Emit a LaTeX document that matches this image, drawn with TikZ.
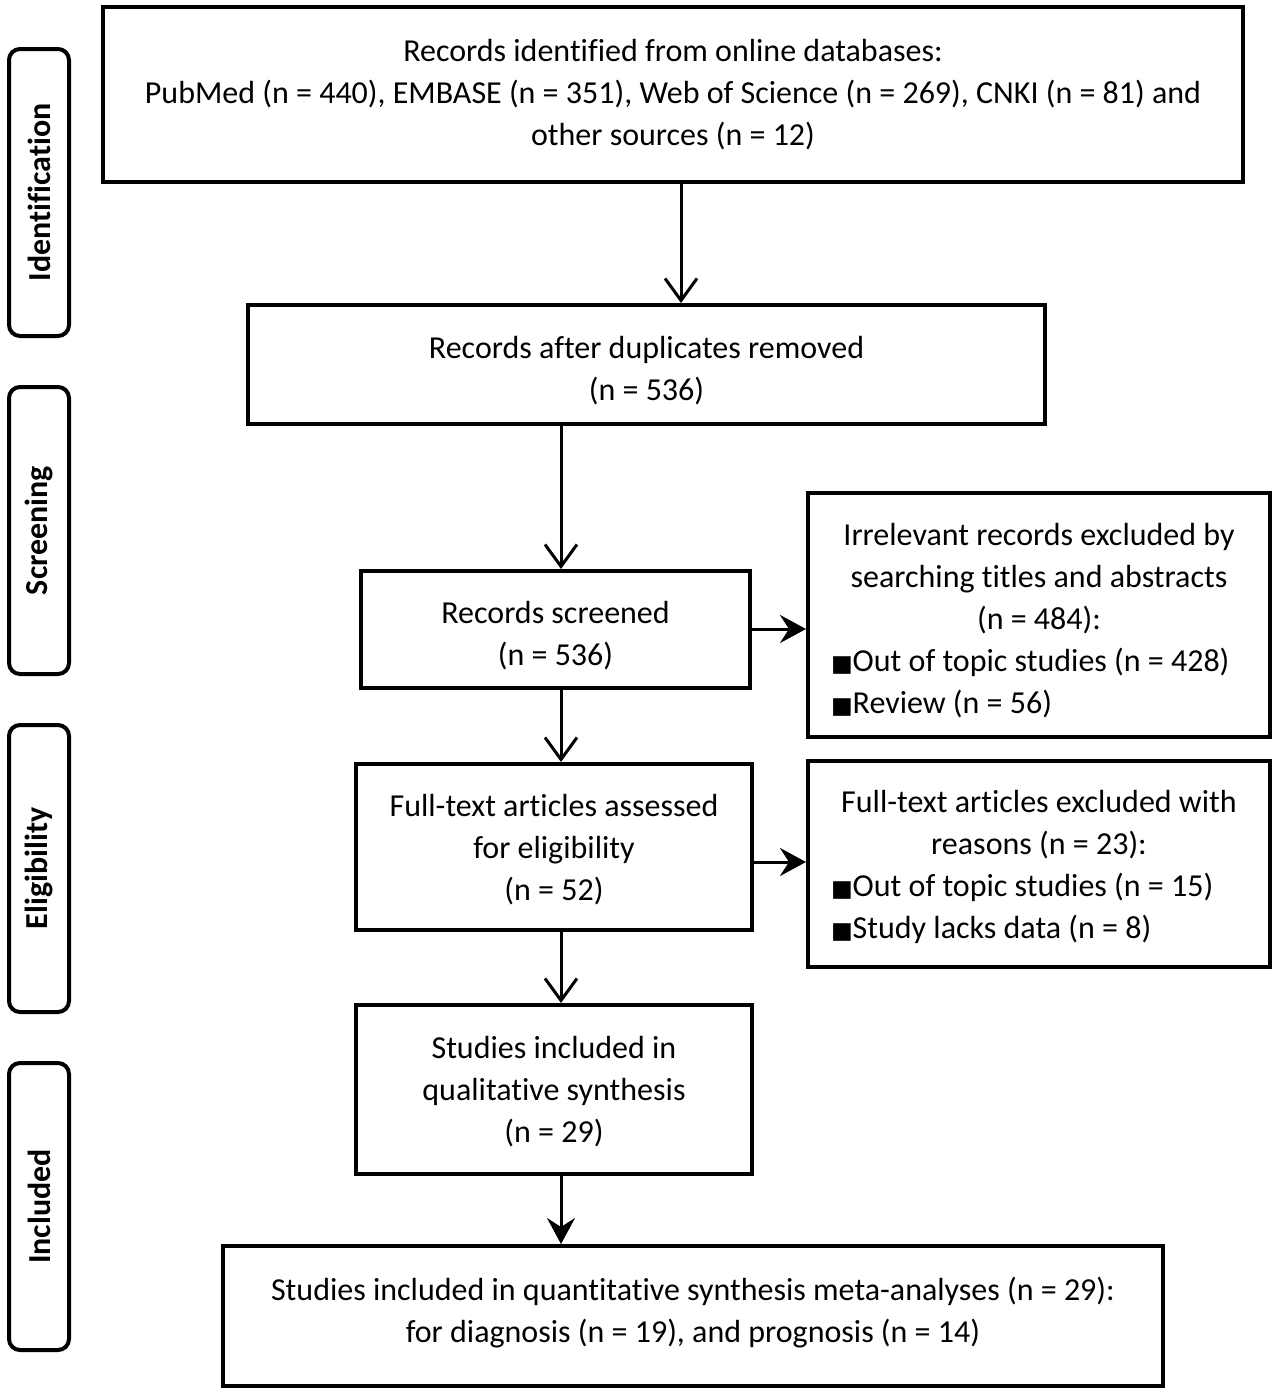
\documentclass[tikz,border=0pt]{standalone}
\usepackage{fontspec}
\setmainfont{Carlito}[Ligatures=NoCommon]
\newfontfamily\symfont{DejaVu Sans}
\usetikzlibrary{arrows.meta}
\newcommand{\sq}{{\symfont\fontsize{23}{23}\selectfont■}}
\begin{document}
\begin{tikzpicture}[x=1pt,y=-1pt,
  frame/.style={draw,line width=4pt,inner sep=0pt},
  txt/.style={align=center,inner sep=0pt,font=\fontsize{32}{42}\selectfont},
  side/.style={draw,line width=4pt,rounded corners=11pt,rotate=90,inner sep=0pt,
    minimum width=287pt,minimum height=60pt,
    font=\bfseries\fontsize{32}{36}\selectfont},
  barb/.style={line width=3pt,-{Straight Barb[length=22pt,width=32pt,line width=3pt]}},
  filled/.style={line width=3pt,-{Stealth[length=26pt,width=28pt,inset=9pt]}}]
\useasboundingbox (0,0) rectangle (1277,1393);
% side labels
\node[side] (sid) at (39,192.5) {Identification};
\node[side] (ssc) at (39,530.5) {Screening};
\node[side] (sel) at (39,868.5) {Eligibility};
\node[side] (sin) at (39,1206.5) {Included};
% frames
\node[frame,minimum width=1140pt,minimum height=175pt] (b1) at (673,94.5) {};
\node[frame,minimum width=797pt,minimum height=119pt] (b2) at (646.5,364.5) {};
\node[frame,minimum width=389pt,minimum height=117pt] (b3) at (555.5,629.5) {};
\node[frame,minimum width=462pt,minimum height=244pt] (b4) at (1039,615) {};
\node[frame,minimum width=396pt,minimum height=166pt] (b5) at (554,847) {};
\node[frame,minimum width=462pt,minimum height=206pt] (b6) at (1039,864) {};
\node[frame,minimum width=396pt,minimum height=169pt] (b7) at (554,1089.5) {};
\node[frame,minimum width=940pt,minimum height=140pt] (b8) at (693,1316) {};
% texts
\node[txt] (t1) at (b1.center) {Records identified from online databases:\\
   PubMed (n = 440), EMBASE (n = 351), Web of Science (n = 269), CNKI (n = 81) and\\
   other sources (n = 12)};
\node[txt,yshift=-6pt] (t2) at (b2.center) {Records after duplicates removed\\(n = 536)};
\node[txt,yshift=-6pt] (t3) at (b3.center) {Records screened\\(n = 536)};
\node[txt,yshift=-6pt] (t4) at (b4.center) {Irrelevant records excluded by\\searching titles and abstracts\\(n = 484):\\
   \makebox[416pt][l]{\sq Out of topic studies (n = 428)}\\
   \makebox[416pt][l]{\sq Review (n = 56)}};
\node[txt,yshift=-3pt] (t5) at (b5.center) {Full-text articles assessed\\for eligibility\\(n = 52)};
\node[txt,yshift=-3pt] (t6) at (b6.center) {Full-text articles excluded with\\reasons (n = 23):\\
   \makebox[416pt][l]{\sq Out of topic studies (n = 15)}\\
   \makebox[416pt][l]{\sq Study lacks data (n = 8)}};
\node[txt,yshift=-2pt] (t7) at (b7.center) {Studies included in\\qualitative synthesis\\(n = 29)};
\node[txt,yshift=3pt] (t8) at (b8.center) {Studies included in quantitative synthesis meta-analyses (n = 29):\\
   for diagnosis (n = 19), and prognosis (n = 14)};
% arrows
\coordinate (x1) at (681,0);
\coordinate (x2) at (561,0);
\coordinate (y1) at (0,629);
\coordinate (y2) at (0,862);
\draw[barb] (b1.south -| x1) -- (b2.north -| x1);
\draw[barb] (b2.south -| x2) -- (b3.north -| x2);
\draw[barb] (b3.south -| x2) -- (b5.north -| x2);
\draw[barb] (b5.south -| x2) -- (b7.north -| x2);
\draw[filled] (b7.south -| x2) -- (b8.north -| x2);
\draw[filled] (b3.east |- y1) -- (b4.west |- y1);
\draw[filled] (b5.east |- y2) -- (b6.west |- y2);
\end{tikzpicture}
\end{document}
